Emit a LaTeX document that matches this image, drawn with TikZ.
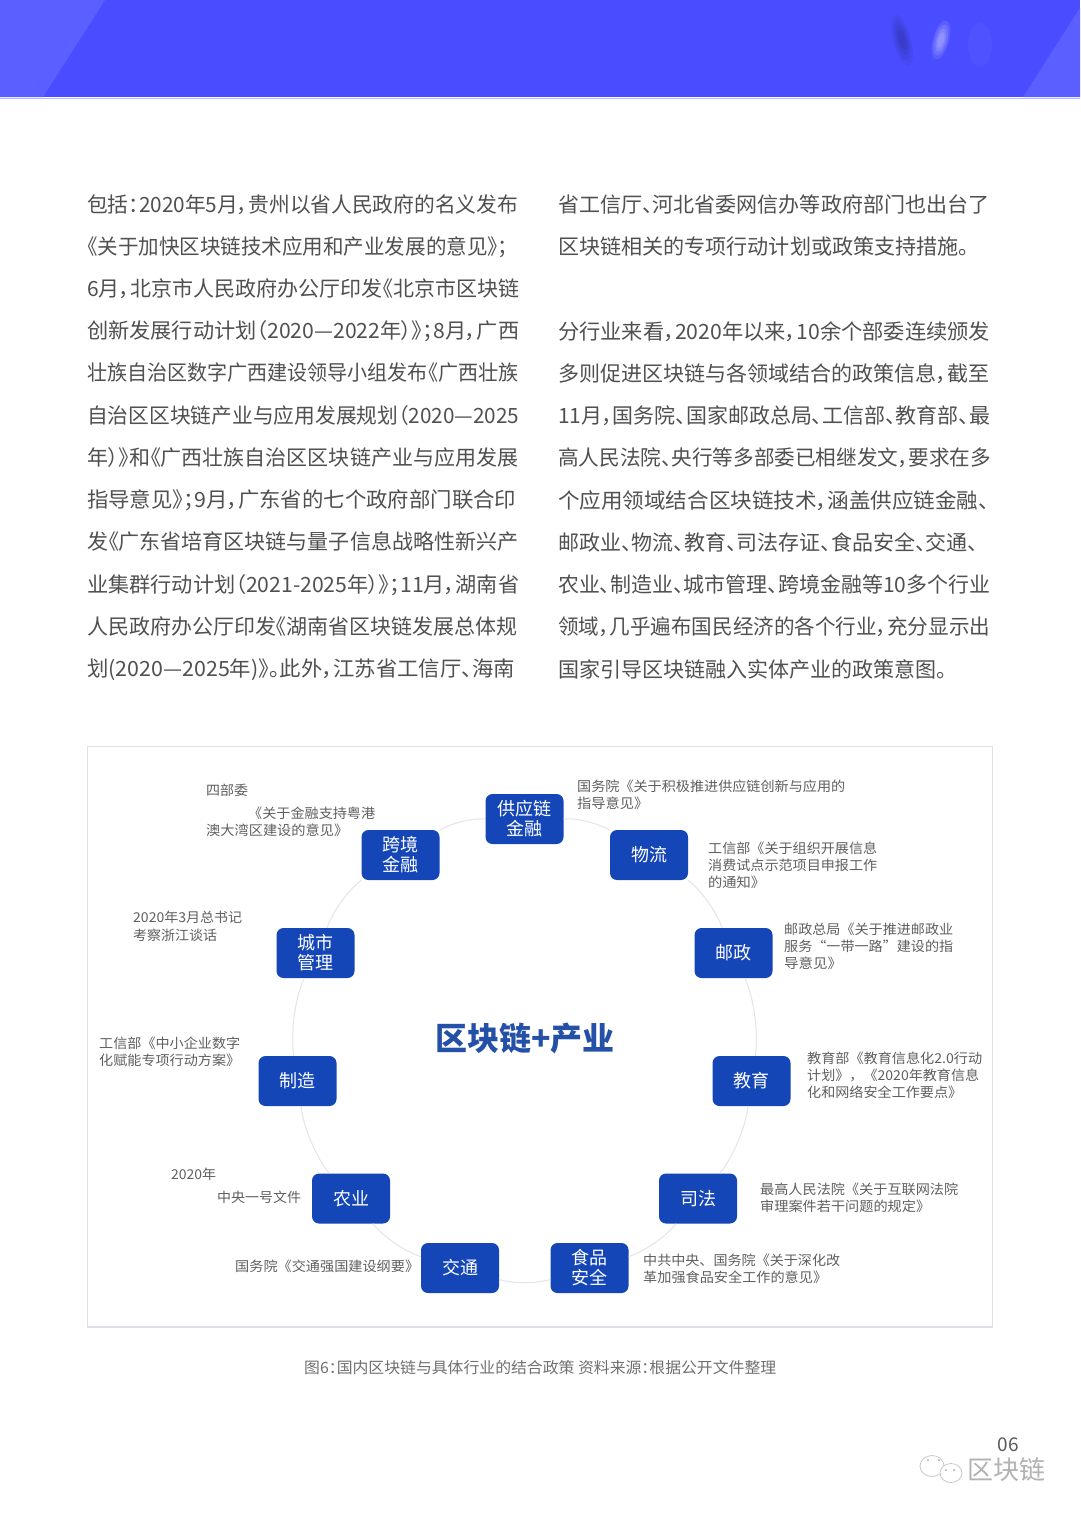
\documentclass[tikz,border=0pt]{standalone}
\usepackage{fontspec}
\usepackage{graphicx}
\setmainfont{Noto Sans CJK SC}[RawFeature={+palt}]
\newfontfamily\lblfont{Noto Sans CJK SC}
\definecolor{hdr}{HTML}{4A4DFF}
\definecolor{hdrl}{HTML}{5C5FFF}
\definecolor{boxc}{HTML}{1546B8}
\definecolor{titlec}{HTML}{2450A8}
\definecolor{bodyc}{HTML}{505050}
\definecolor{lblc}{HTML}{5F5F5F}
\definecolor{capc}{HTML}{707070}
\definecolor{framec}{HTML}{DDE0E8}
\definecolor{ringc}{HTML}{E3E5EA}
\newcommand\tl[6]{\node[#5,anchor=west,inner sep=0pt] (#1) at (#2,#3) {\resizebox{\dimexpr#4pt-#2pt\relax}{\height}{#6}};}
\tikzset{
 bodyt/.style={font=\fontsize{21}{21}\selectfont,text=bodyc,text height=18.5pt,text depth=2.5pt},
 lblt/.style={font=\lblfont\fontsize{13.6}{14}\selectfont,text=lblc,text height=12pt,text depth=1.6pt},
 capt/.style={font=\fontsize{15.5}{16}\selectfont,text=capc,text height=13.6pt,text depth=1.9pt},
 sector/.style={fill=boxc,draw=none,rounded corners=7pt,minimum width=78pt,minimum height=50pt,inner sep=0pt,align=center,text=white,font=\fontsize{18}{20}\selectfont},
 ring/.style={draw=ringc,line width=1pt,bend left=16.4,looseness=0.75},
}
\begin{document}
\begin{tikzpicture}[x=1pt,y=-1pt]
\useasboundingbox (0,0) rectangle (1080,1518);
\fill[white] (0,0) rectangle (1080,1518);
% header
\fill[hdr] (0,0) rectangle (1080,97);
\fill[hdrl] (0,0) -- (105,0) -- (43,97) -- (0,97) -- cycle;
\fill[hdrl] (1080,8) -- (1023,97) -- (1080,97) -- cycle;
\draw[line width=1pt,draw=hdr!40] (0,98) -- (1080,98);
% blurred artwork in header
\foreach \o/\s in {.10/1,.10/.8,.12/.6,.14/.4}{
 \fill[fill=black!50!hdr,fill opacity=\o,rotate around={15:(902,40)}] (902,40) ellipse ({9*\s} and {26*\s});
 \fill[fill=white,fill opacity=\o,rotate around={-15:(941,40)}] (941,40) ellipse ({8*\s} and {20*\s});
}
\fill[fill=white,fill opacity=.03] (980,45) ellipse (12 and 22);
% left column
\tl{a1}{87}{204}{518}{bodyt}{包括：2020年5月，贵州以省人民政府的名义发布}
\tl{a2}{87}{246}{508}{bodyt}{《关于加快区块链技术应用和产业发展的意见》；}
\tl{a3}{87}{288}{519}{bodyt}{6月，北京市人民政府办公厅印发《北京市区块链}
\tl{a4}{87}{330}{519}{bodyt}{创新发展行动计划（2020—2022年）》；8月，广西}
\tl{a5}{87}{372}{518}{bodyt}{壮族自治区数字广西建设领导小组发布《广西壮族}
\tl{a6}{87}{415}{519}{bodyt}{自治区区块链产业与应用发展规划（2020—2025}
\tl{a7}{87}{457}{518}{bodyt}{年）》和《广西壮族自治区区块链产业与应用发展}
\tl{a8}{87}{499}{516}{bodyt}{指导意见》；9月，广东省的七个政府部门联合印}
\tl{a9}{87}{541}{518}{bodyt}{发《广东省培育区块链与量子信息战略性新兴产}
\tl{a10}{87}{584}{519}{bodyt}{业集群行动计划（2021-2025年）》；11月，湖南省}
\tl{a11}{87}{626}{517}{bodyt}{人民政府办公厅印发《湖南省区块链发展总体规}
\tl{a12}{87}{668}{515}{bodyt}{划(2020—2025年)》。此外，江苏省工信厅、海南}
% right column
\tl{b1}{558}{204}{989}{bodyt}{省工信厅、河北省委网信办等政府部门也出台了}
\tl{b2}{558}{246}{969}{bodyt}{区块链相关的专项行动计划或政策支持措施。}
\tl{b3}{558}{331}{990}{bodyt}{分行业来看，2020年以来，10余个部委连续颁发}
\tl{b4}{558}{373}{989}{bodyt}{多则促进区块链与各领域结合的政策信息，截至}
\tl{b5}{558}{415}{990}{bodyt}{11月，国务院、国家邮政总局、工信部、教育部、最}
\tl{b6}{558}{457}{991}{bodyt}{高人民法院、央行等多部委已相继发文，要求在多}
\tl{b7}{558}{500}{989}{bodyt}{个应用领域结合区块链技术，涵盖供应链金融、}
\tl{b8}{558}{542}{978}{bodyt}{邮政业、物流、教育、司法存证、食品安全、交通、}
\tl{b9}{558}{584}{990}{bodyt}{农业、制造业、城市管理、跨境金融等10多个行业}
\tl{b10}{558}{626}{990}{bodyt}{领域，几乎遍布国民经济的各个行业，充分显示出}
\tl{b11}{558}{669}{947}{bodyt}{国家引导区块链融入实体产业的政策意图。}
% frame
\draw[draw=framec,line width=1.3pt] (87.5,746.5) rectangle (992.5,1327);
% sector nodes
\node[sector] (s1) at (524.5,819) {供应链\\金融};
\node[sector] (s2) at (649,855) {物流};
\node[sector] (s3) at (733.5,953) {邮政};
\node[sector] (s4) at (751.5,1081) {教育};
\node[sector] (s5) at (698,1198.5) {司法};
\node[sector] (s6) at (589.5,1268) {食品\\安全};
\node[sector] (s7) at (460,1268) {交通};
\node[sector] (s8) at (351,1198.5) {农业};
\node[sector] (s9) at (297.5,1081) {制造};
\node[sector] (s10) at (315.5,953) {城市\\管理};
\node[sector] (s11) at (400.5,855) {跨境\\金融};
\draw[ring] (s1) to (s2);
\draw[ring] (s2) to (s3);
\draw[ring] (s3) to (s4);
\draw[ring] (s4) to (s5);
\draw[ring] (s5) to (s6);
\draw[ring] (s6) to (s7);
\draw[ring] (s7) to (s8);
\draw[ring] (s8) to (s9);
\draw[ring] (s9) to (s10);
\draw[ring] (s10) to (s11);
\draw[ring] (s11) to (s1);
\node[font=\fontsize{32}{34}\selectfont\bfseries,text=titlec,inner sep=0pt] (title) at (525,1038) {区块链+产业};
% labels
\tl{c1}{577}{786}{845}{lblt}{国务院《关于积极推进供应链创新与应用的}
\tl{c2}{577}{803}{648}{lblt}{指导意见》}
\tl{d1}{708}{848}{877}{lblt}{工信部《关于组织开展信息}
\tl{d2}{708}{865}{877}{lblt}{消费试点示范项目申报工作}
\tl{d3}{708}{882}{765}{lblt}{的通知》}
\tl{e1}{784}{929}{953}{lblt}{邮政总局《关于推进邮政业}
\tl{e2}{784}{946}{953}{lblt}{服务“一带一路”建设的指}
\tl{e3}{784}{963}{842}{lblt}{导意见》}
\tl{f1}{807}{1058}{982}{lblt}{教育部《教育信息化2.0行动}
\tl{f2}{807}{1075}{979}{lblt}{计划》，《2020年教育信息}
\tl{f3}{807}{1092}{962}{lblt}{化和网络安全工作要点》}
\tl{g1}{760}{1189}{958}{lblt}{最高人民法院《关于互联网法院}
\tl{g2}{760}{1206}{930}{lblt}{审理案件若干问题的规定》}
\tl{h1}{643}{1260}{840}{lblt}{中共中央、国务院《关于深化改}
\tl{h2}{643}{1277}{827}{lblt}{革加强食品安全工作的意见》}
\tl{i1}{235}{1266}{419}{lblt}{国务院《交通强国建设纲要》}
\tl{j1}{171}{1174}{216}{lblt}{2020年}
\tl{j2}{217}{1197}{301}{lblt}{中央一号文件}
\tl{k1}{99}{1043}{240}{lblt}{工信部《中小企业数字}
\tl{k2}{99}{1060}{240}{lblt}{化赋能专项行动方案》}
\tl{l1}{133}{917}{242}{lblt}{2020年3月总书记}
\tl{l2}{133}{935}{217}{lblt}{考察浙江谈话}
\tl{m1}{206}{790}{248}{lblt}{四部委}
\tl{m2}{248}{813}{375}{lblt}{《关于金融支持粤港}
\tl{m3}{206}{830}{348}{lblt}{澳大湾区建设的意见》}
% caption
\tl{cap}{304}{1368}{776}{capt}{图6：国内区块链与具体行业的结合政策 资料来源：根据公开文件整理}
% page number and watermark
\node[font=\fontsize{19}{20}\selectfont,text=black!65,inner sep=0pt] (pg) at (1008,1445) {06};
\node[font=\fontsize{26}{28}\selectfont,text=black!30,inner sep=0pt] (wm) at (1006,1470) {区块链};
\draw[draw=black!22,fill=white,line width=.8pt] (932,1466) ellipse (12 and 10.5);
\draw[draw=black!22,fill=white,line width=.8pt] (951,1473) ellipse (11 and 9.5);
\foreach \p in {(928,1460),(939,1460),(946,1470),(954,1470)}{\fill[black!35] \p circle (1);}
\end{tikzpicture}
\end{document}
